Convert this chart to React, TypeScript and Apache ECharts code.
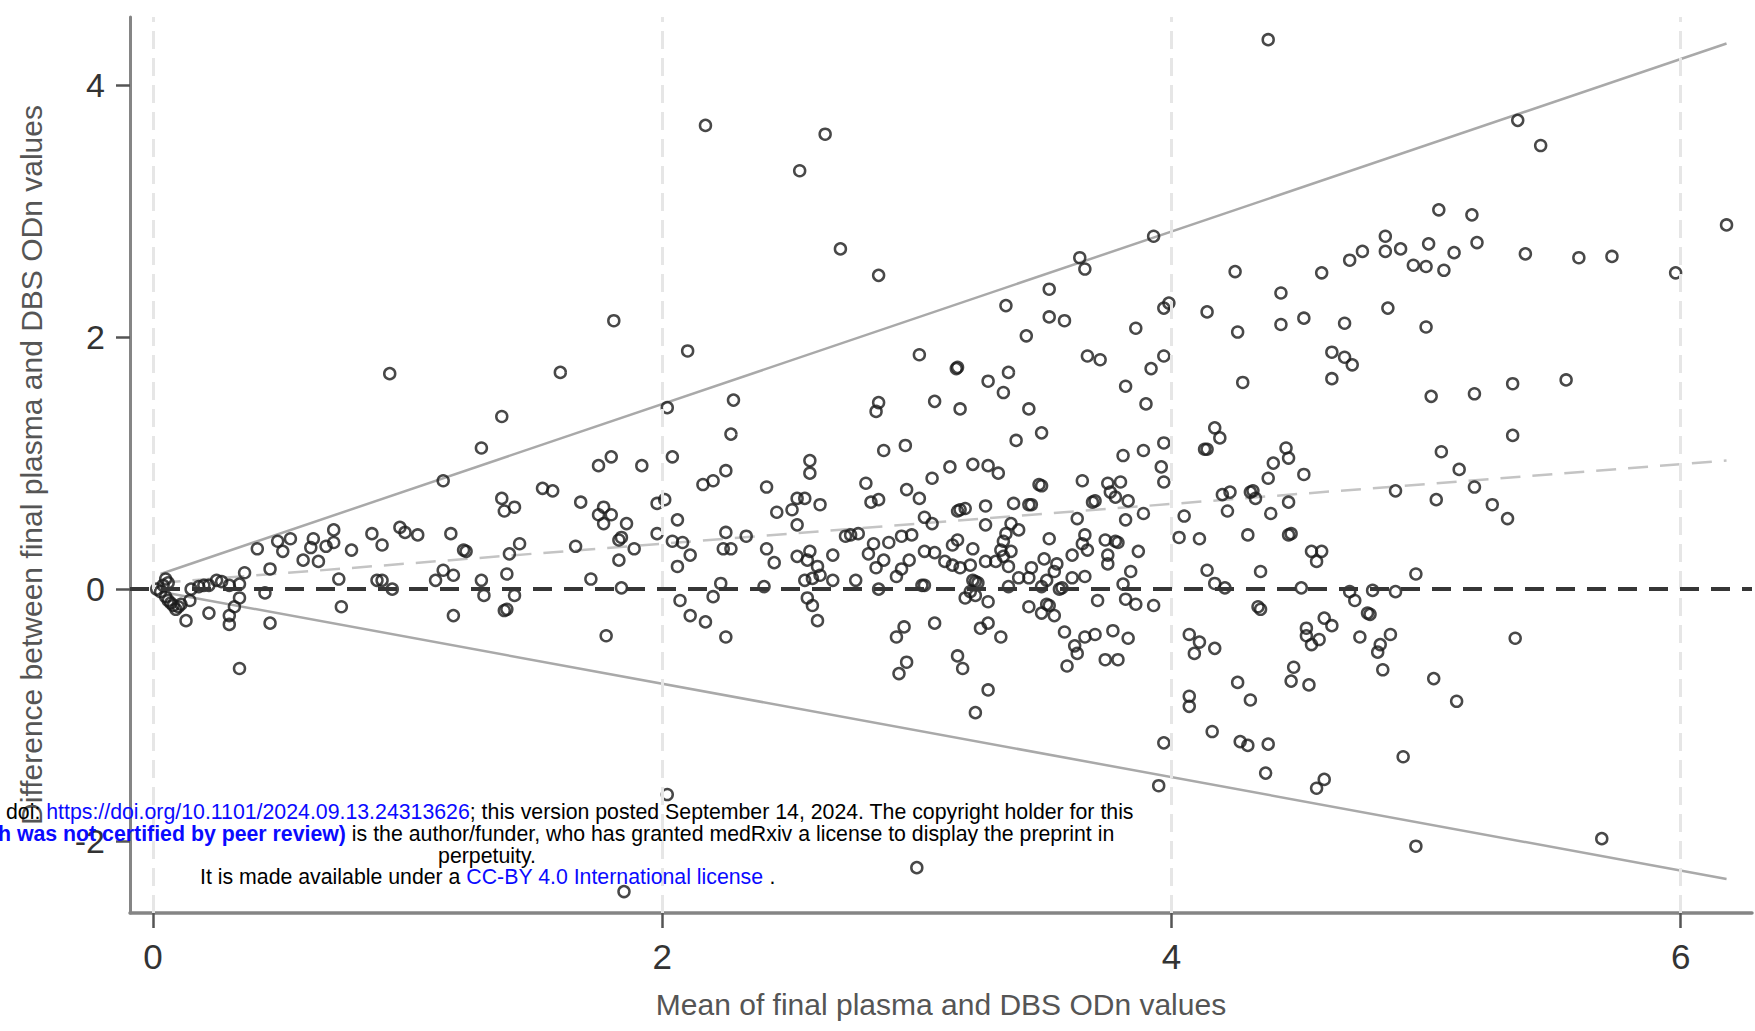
import React, { useEffect, useRef } from "react";
import * as echarts from "echarts";

const xTickValues = [0, 2, 4, 6];
const yTickValues = [-2, 0, 2, 4];

// Mean (x) vs difference (y): means below 2
const pointsLow: number[][] = [
  [0.93, 1.71], [1.6, 1.72], [1.37, 1.37], [1.29, 1.12], [1.14, 0.86], [1.75, 0.98], [1.8, 1.05], [1.92, 0.98],
  [1.53, 0.8], [1.57, 0.78], [1.37, 0.72], [1.38, 0.62], [1.42, 0.65], [1.68, 0.69], [1.77, 0.65], [1.75, 0.59],
  [1.8, 0.59], [1.77, 0.52], [1.86, 0.52], [1.83, 0.39], [1.84, 0.41], [1.89, 0.32], [1.66, 0.34], [1.83, 0.23],
  [1.44, 0.36], [1.4, 0.28], [1.22, 0.31], [1.23, 0.3], [1.17, 0.44], [1.04, 0.43], [0.99, 0.45], [0.97, 0.49],
  [0.86, 0.44], [0.9, 0.35], [0.78, 0.31], [0.71, 0.47], [0.71, 0.37], [0.68, 0.34], [0.63, 0.4], [0.62, 0.33],
  [0.54, 0.4], [0.49, 0.38], [0.51, 0.3], [0.41, 0.32], [0.59, 0.23], [0.65, 0.22], [0.46, 0.16], [0.36, 0.13],
  [0.25, 0.07], [0.2, 0.03], [0.15, 0.0], [0.3, 0.03], [0.34, 0.04], [0.145, -0.09], [0.05, 0.08], [0.015, 0.0],
  [0.05, -0.06], [0.07, -0.11], [0.09, -0.16], [0.13, -0.25], [0.22, -0.19], [0.3, -0.21], [0.3, -0.28], [0.32, -0.14],
  [0.34, -0.07], [0.34, -0.63], [0.44, -0.03], [0.46, -0.27], [0.73, 0.08], [0.74, -0.14], [0.88, 0.07], [0.9, 0.07],
  [0.94, 0.0], [1.11, 0.07], [1.14, 0.15], [1.18, 0.11], [1.18, -0.21], [1.29, 0.07], [1.3, -0.05], [1.39, 0.12],
  [1.42, -0.05], [1.38, -0.17], [1.39, -0.16], [1.72, 0.08], [1.78, -0.37], [1.84, 0.01], [1.81, 2.13], [1.85, -2.4],
  [0.03, -0.02], [0.06, -0.09], [0.08, -0.13], [0.1, -0.14], [0.04, 0.03], [0.18, 0.02], [0.22, 0.03], [0.27, 0.06],
  [0.11, -0.12], [0.06, 0.05],
];

// means between 2 and 4
const pointsMid: number[][] = [
  [1.98, 0.68], [2.01, 0.71], [2.16, 0.83], [2.2, 0.86], [2.06, 0.55], [1.98, 0.44], [2.04, 0.38], [2.08, 0.37],
  [2.11, 0.27], [2.06, 0.18], [2.25, 0.45], [2.24, 0.32], [2.27, 0.32], [2.33, 0.42], [2.41, 0.81], [2.45, 0.61],
  [2.51, 0.63], [2.53, 0.72], [2.56, 0.72], [2.62, 0.67], [2.53, 0.51], [2.41, 0.32], [2.44, 0.21], [2.53, 0.26],
  [2.58, 0.3], [2.57, 0.23], [2.61, 0.18], [2.62, 0.11], [2.59, 0.085], [2.56, 0.07], [2.67, 0.27], [2.67, 0.07],
  [2.4, 0.02], [2.23, 0.045], [2.2, -0.06], [2.07, -0.09], [2.11, -0.21], [2.17, -0.26], [2.25, -0.38], [2.57, -0.07],
  [2.59, -0.13], [2.61, -0.25], [2.72, 0.42], [2.77, 0.44], [2.74, 0.43], [2.76, 0.07], [2.8, 0.84], [2.82, 0.69],
  [2.85, 0.71], [2.83, 0.36], [2.81, 0.28], [2.89, 0.37], [2.87, 0.23], [2.84, 0.17], [2.85, 0.0], [2.94, 0.42],
  [2.98, 0.43], [2.96, 0.79], [3.01, 0.72], [2.97, 0.23], [2.94, 0.16], [2.92, 0.1], [3.03, 0.3], [3.07, 0.29],
  [3.03, 0.57], [3.06, 0.52], [3.06, 0.88], [3.02, 0.03], [3.03, 0.03], [2.95, -0.3], [2.92, -0.38], [2.96, -0.58],
  [2.93, -0.67], [3.07, -0.27], [3.16, 0.62], [3.17, 0.63], [3.19, 0.64], [3.27, 0.66], [3.27, 0.51], [3.16, 0.39],
  [3.14, 0.35], [3.22, 0.32], [3.11, 0.22], [3.14, 0.19], [3.17, 0.17], [3.21, 0.19], [3.27, 0.22], [3.31, 0.22],
  [3.33, 0.31], [3.37, 0.3], [3.34, 0.26], [3.36, 0.18], [3.35, 0.44], [3.34, 0.38], [3.37, 0.52], [3.4, 0.47],
  [3.38, 0.68], [3.44, 0.67], [3.45, 0.67], [3.48, 0.83], [3.49, 0.82], [3.23, 0.06], [3.24, 0.05], [3.22, 0.07],
  [3.21, -0.02], [3.19, -0.07], [3.23, -0.05], [3.28, -0.1], [3.28, -0.27], [3.25, -0.31], [3.33, -0.38], [3.16, -0.53],
  [3.18, -0.63], [3.28, -0.8], [3.23, -0.98], [3.36, 0.02], [3.4, 0.09], [3.44, 0.09], [3.45, 0.17], [3.5, 0.24],
  [3.55, 0.2], [3.54, 0.14], [3.52, 0.4], [3.51, 0.07], [3.49, 0.02], [3.56, 0.0], [3.57, 0.01], [3.44, -0.14],
  [3.49, -0.19], [3.51, -0.12], [3.52, -0.13], [3.54, -0.21], [3.58, -0.34], [3.62, -0.45], [3.63, -0.51], [3.66, -0.38],
  [3.7, -0.36], [3.59, -0.61], [3.61, 0.27], [3.61, 0.09], [3.66, 0.1], [3.63, 0.56], [3.65, 0.86], [3.66, 0.43],
  [3.65, 0.36], [3.67, 0.31], [3.69, 0.69], [3.7, 0.7], [3.74, 0.39], [3.78, 0.38], [3.79, 0.37], [3.75, 0.27],
  [3.75, 0.2], [3.75, 0.84], [3.76, 0.77], [3.78, 0.73], [3.8, 0.85], [3.83, 0.7], [3.82, 0.55], [3.89, 0.6],
  [3.87, 0.3], [3.84, 0.14], [3.81, 0.04], [3.71, -0.09], [3.82, -0.08], [3.86, -0.12], [3.93, -0.13], [3.77, -0.33],
  [3.83, -0.39], [3.74, -0.56], [3.79, -0.56], [3.97, 0.85], [3.97, -1.22], [3.95, -1.56], [2.02, -1.63],
  [2.17, 3.68], [2.64, 3.61], [2.54, 3.32], [2.7, 2.7], [2.85, 2.49], [2.1, 1.89], [2.02, 1.44], [2.28, 1.5],
  [2.27, 1.23], [2.04, 1.05], [2.25, 0.94], [2.58, 1.02], [2.58, 0.92], [2.85, 1.48], [2.84, 1.41], [2.87, 1.1],
  [2.955, 1.14], [3.01, 1.86], [3.155, 1.75], [3.16, 1.76], [3.07, 1.49], [3.17, 1.43], [3.13, 0.97], [3.22, 0.99],
  [3.28, 0.98], [3.32, 0.92], [3.28, 1.65], [3.36, 1.72], [3.34, 1.56], [3.35, 2.25], [3.43, 2.01], [3.44, 1.43],
  [3.39, 1.18], [3.49, 1.24], [3.52, 2.16], [3.58, 2.13], [3.52, 2.38], [3.64, 2.63], [3.66, 2.54], [3.93, 2.8],
  [3.97, 2.23], [3.99, 2.27], [3.86, 2.07], [3.67, 1.85], [3.72, 1.82], [3.97, 1.85], [3.92, 1.75], [3.82, 1.61],
  [3.9, 1.47], [3.97, 1.16], [3.89, 1.1], [3.81, 1.06], [3.96, 0.97], [3.0, -2.21],
];

// means above 4
const pointsHigh: number[][] = [
  [5.45, 3.52], [5.05, 3.01], [5.18, 2.97], [4.84, 2.8], [4.84, 2.68], [4.9, 2.7], [4.75, 2.68], [4.7, 2.61],
  [5.01, 2.74], [5.2, 2.75], [5.11, 2.67], [4.95, 2.57], [5.0, 2.56], [5.07, 2.53], [5.39, 2.66], [5.6, 2.63],
  [5.73, 2.64], [5.98, 2.51], [4.59, 2.51], [4.25, 2.52], [4.43, 2.35], [4.14, 2.2], [4.26, 2.04], [4.43, 2.1],
  [4.52, 2.15], [4.68, 2.11], [4.85, 2.23], [5.0, 2.08], [4.63, 1.88], [4.68, 1.84], [4.71, 1.78], [4.63, 1.67],
  [4.28, 1.64], [5.02, 1.53], [5.19, 1.55], [5.34, 1.63], [5.55, 1.66], [5.34, 1.22], [5.06, 1.09], [5.13, 0.95],
  [4.17, 1.28], [4.19, 1.2], [4.13, 1.11], [4.14, 1.11], [4.45, 1.12], [4.46, 1.04], [4.4, 1.0], [4.38, 0.88],
  [4.52, 0.91], [4.2, 0.75], [4.23, 0.77], [4.31, 0.77], [4.32, 0.78], [4.33, 0.72], [4.22, 0.62], [4.05, 0.58],
  [4.39, 0.6], [4.46, 0.69], [4.88, 0.78], [5.04, 0.71], [5.19, 0.81], [5.26, 0.67], [5.32, 0.56], [4.03, 0.41],
  [4.11, 0.4], [4.3, 0.43], [4.46, 0.43], [4.47, 0.44], [4.55, 0.3], [4.59, 0.3], [4.57, 0.22], [4.14, 0.15],
  [4.35, 0.14], [4.96, 0.12], [4.17, 0.045], [4.21, 0.01], [4.51, 0.01], [4.7, -0.02], [4.72, -0.09], [4.79, -0.01],
  [4.88, -0.02], [4.77, -0.19], [4.78, -0.2], [4.34, -0.14], [4.35, -0.16], [4.6, -0.23], [4.63, -0.29], [4.53, -0.31],
  [4.53, -0.37], [4.58, -0.4], [4.55, -0.44], [4.74, -0.38], [4.86, -0.36], [4.82, -0.44], [4.81, -0.5], [4.83, -0.64],
  [5.35, -0.39], [4.07, -0.36], [4.11, -0.42], [4.09, -0.51], [4.17, -0.47], [4.48, -0.62], [4.47, -0.73], [4.54, -0.76],
  [4.26, -0.74], [4.07, -0.85], [4.07, -0.93], [4.31, -0.88], [5.03, -0.71], [5.12, -0.89], [4.16, -1.13], [4.27, -1.21],
  [4.3, -1.24], [4.38, -1.23], [4.37, -1.46], [4.6, -1.51], [4.57, -1.58], [4.91, -1.33], [4.38, 4.36], [5.36, 3.72],
  [6.18, 2.89], [4.96, -2.04], [5.69, -1.98],
];

// reference lines (end points)
const upperLimitLine: number[][] = [[0.03, 0.12], [6.18, 4.33]];
const lowerLimitLine: number[][] = [[0.03, -0.02], [6.18, -2.3]];
const meanDiffLine: number[][] = [[0.03, 0.05], [6.18, 1.02]];

const FONT = "'Liberation Sans', Arial, sans-serif";

export default function App() {
  const ref = useRef<HTMLDivElement>(null);
  useEffect(() => {
    document.body.style.margin = "0";
    const chart = echarts.init(ref.current as HTMLDivElement, null, { renderer: "svg" });
    const allPoints = [...pointsLow, ...pointsMid, ...pointsHigh];
    const txt = { fontSize: 21.3, fontFamily: FONT };
    chart.setOption({
      animation: false,
      backgroundColor: "#ffffff",
      grid: { left: 130, top: 17, right: 3, bottom: 118, containLabel: false },
      xAxis: {
        type: "value",
        min: -0.09,
        max: 6.28,
        name: "Mean of final plasma and DBS ODn values",
        nameLocation: "middle",
        nameGap: 76,
        nameTextStyle: { fontSize: 30, color: "#555555", fontFamily: FONT },
        axisLine: { onZero: false, lineStyle: { color: "#858585", width: 3.5 } },
        axisTick: { show: true, customValues: xTickValues, length: 15, lineStyle: { color: "#555555", width: 2.5 } },
        axisLabel: { customValues: xTickValues, margin: 26, fontSize: 35, color: "#333333", fontFamily: FONT },
        splitLine: { show: false },
      },
      yAxis: {
        type: "value",
        min: -2.57,
        max: 4.54,
        name: "Difference between final plasma and DBS ODn values",
        nameLocation: "middle",
        nameRotate: 90,
        nameGap: 84,
        nameTextStyle: { fontSize: 30, color: "#555555", fontFamily: FONT },
        axisLine: { onZero: false, lineStyle: { color: "#858585", width: 3 } },
        axisTick: { show: true, customValues: yTickValues, length: 14, lineStyle: { color: "#555555", width: 2.5 } },
        axisLabel: { customValues: yTickValues, margin: 25, fontSize: 34, color: "#333333", fontFamily: FONT },
        splitLine: { show: false },
      },
      series: [
        {
          type: "line",
          data: upperLimitLine,
          symbol: "none",
          silent: true,
          z: 2,
          lineStyle: { color: "#a9a9a9", width: 2.5 },
          markLine: {
            silent: true,
            symbol: ["none", "none"],
            label: { show: false },
            lineStyle: { color: "#e6e6e6", width: 3, type: [18, 9] },
            data: xTickValues.map((v) => ({ xAxis: v })),
          },
        },
        {
          type: "line",
          data: lowerLimitLine,
          symbol: "none",
          silent: true,
          z: 2,
          lineStyle: { color: "#a9a9a9", width: 2.5 },
        },
        {
          type: "line",
          data: meanDiffLine,
          symbol: "none",
          silent: true,
          z: 2,
          lineStyle: { color: "#c4c4c4", width: 2.5, type: [20, 12] },
          markLine: {
            silent: true,
            symbol: ["none", "none"],
            label: { show: false },
            lineStyle: { color: "#363636", width: 4.2, type: [19, 12] },
            data: [{ yAxis: 0 }],
          },
        },
        {
          type: "scatter",
          data: allPoints,
          symbol: "circle",
          symbolSize: 11,
          z: 4,
          itemStyle: { color: "rgba(255,255,255,0)", borderColor: "#1a1a1a", borderWidth: 2.5 },
        },
      ],
      graphic: [
        {
          type: "text",
          x: 6,
          y: 812,
          z: 100,
          style: {
            text: "{n|doi: }{l|https://doi.org/10.1101/2024.09.13.24313626}{n|; this version posted September 14, 2024. The copyright holder for this}",
            align: "left",
            verticalAlign: "middle",
            ...txt,
            rich: {
              n: { ...txt, fill: "#000000" },
              l: { ...txt, fill: "#0a0aff" },
            },
          },
        },
        {
          type: "text",
          x: -2,
          y: 834,
          z: 100,
          style: {
            text: "{b|h was not certified by peer review)}{n| is the author/funder, who has granted medRxiv a license to display the preprint in}",
            align: "left",
            verticalAlign: "middle",
            ...txt,
            rich: {
              n: { ...txt, fill: "#000000" },
              b: { ...txt, fontWeight: "bold", fill: "#0a0aff" },
            },
          },
        },
        {
          type: "text",
          x: 487,
          y: 856,
          z: 100,
          style: { text: "perpetuity.", align: "center", verticalAlign: "middle", fill: "#000000", ...txt },
        },
        {
          type: "text",
          x: 200,
          y: 877,
          z: 100,
          style: {
            text: "{n|It is made available under a }{l|CC-BY 4.0 International license}{n| .}",
            align: "left",
            verticalAlign: "middle",
            ...txt,
            rich: {
              n: { ...txt, fill: "#000000" },
              l: { ...txt, fill: "#0a0aff" },
            },
          },
        },
      ],
    });
    return () => chart.dispose();
  }, []);
  return <div ref={ref} style={{ width: 1755, height: 1031, background: "#ffffff" }} />;
}
